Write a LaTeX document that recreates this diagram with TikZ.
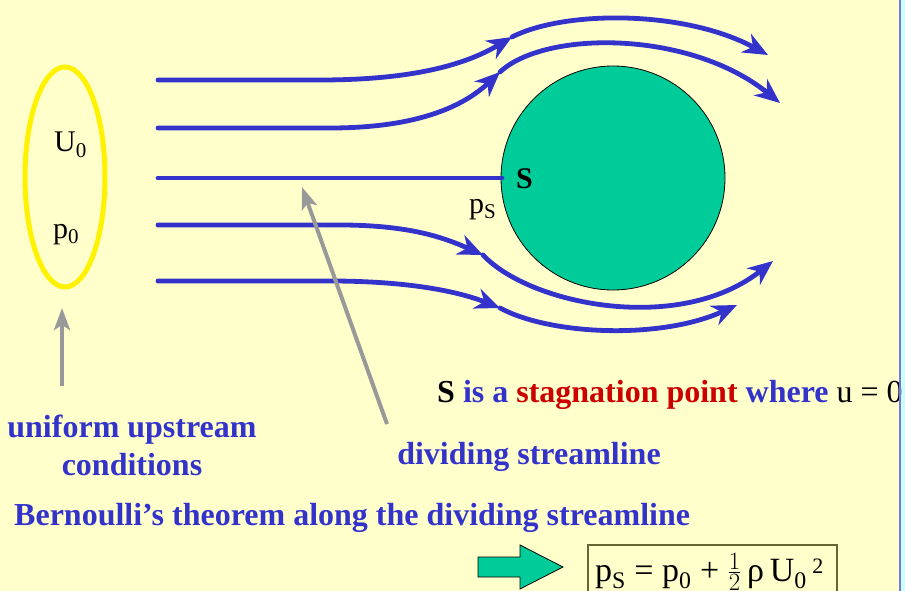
\documentclass[tikz,border=0pt]{standalone}
\usepackage{amsmath}
\usepackage{fontspec}
\setmainfont{Liberation Serif}
\usepackage{xcolor}
\definecolor{paper}{HTML}{FFFFCC}
\definecolor{flowblue}{HTML}{3333CC}
\definecolor{stagred}{HTML}{CC0000}
\definecolor{bodygreen}{HTML}{00CC99}
\definecolor{pointgray}{HTML}{999999}
\definecolor{rimblue}{HTML}{7777DD}
\definecolor{rimcyan}{HTML}{CCFFFF}
\definecolor{boxolive}{HTML}{666633}
\usepackage{tikz}
\usetikzlibrary{arrows.meta}

\begin{document}
\begin{tikzpicture}[
  x=1pt, y=-1pt,
  stream/.style={line width=4.8pt, color=flowblue, line cap=round},
  tip/.style={-{Stealth[length=25pt, width=21pt, inset=8pt]}},
  pointer/.style={line width=4pt, color=pointgray, -{Stealth[length=22pt, width=16pt, inset=5pt]}},
  note/.style={font=\fontsize{32}{38}\selectfont\bfseries, text=flowblue, inner sep=0pt},
  sym/.style={font=\fontsize{30}{34}\selectfont, inner sep=0pt}
]
\useasboundingbox (0,0) rectangle (905,591);
\fill[paper] (0,0) rectangle (900,591);
\fill[rimcyan] (900,0) rectangle (905,591);

% upstream region
\draw[yellow, line width=5pt] (65,177) ellipse [x radius=40, y radius=110];
\node[sym, anchor=base west] (u0) at (54,152) {U\textsubscript{0}};
\node[sym, anchor=base west] (p0) at (53,238) {p\textsubscript{0}};

% body
\draw[black, fill=bodygreen, line width=0.8pt] (613,178) circle [radius=112];
\node[sym, anchor=base west, font=\fontsize{30}{34}\selectfont\bfseries] (s) at (516,188) {S};
\node[sym, anchor=base west] (ps) at (469,213) {p\textsubscript{S}};

% streamlines
\draw[stream, tip] (158,80) -- (320,80) .. controls (420,80) and (470,62) .. (512,37);
\draw[stream, tip] (512,37) .. controls (565,10) and (685,10) .. (768,55);
\draw[stream, tip] (158,128) -- (330,128) .. controls (420,128) and (465,105) .. (500,72);
\draw[stream, tip] (500,72) .. controls (545,30) and (690,30) .. (780,103);
\draw[stream] (158,178) -- (502,178);
\draw[stream, tip] (158,225) -- (340,225) .. controls (410,225) and (445,238) .. (483,255);
\draw[stream, tip] (483,255) .. controls (530,305) and (680,335) .. (773,261);
\draw[stream, tip] (158,281) -- (330,281) .. controls (410,281) and (460,292) .. (500,308);
\draw[stream, tip] (500,308) .. controls (550,335) and (660,340) .. (737,305);

% labels
\node[note, align=center] (upstr) at (132,445) {uniform upstream\\conditions};
\node[note] (divl) at (529,457) {dividing streamline};
\node[note, anchor=base west] (bern) at (14,525) {Bernoulli’s theorem along the dividing streamline};
\node[note, anchor=base west] (stag) at (437,402)
  {\color{black}S \color{flowblue}is a \color{stagred}stagnation point \color{flowblue}where \color{black}\mdseries u = 0};

\coordinate (upstip) at (62,308);
\coordinate (divtip) at (302,187);
\draw[pointer] (62,386) -- (upstip);
\draw[pointer] (387,424) -- (divtip);

% result
\draw[black, fill=bodygreen, line width=0.8pt]
  (478,557) -- (520,557) -- (520,545) -- (563,567) -- (520,589) -- (520,577) -- (478,577) -- cycle;
\draw[boxolive, line width=1.5pt] (588,545) rectangle (837,600);
\node[sym, anchor=base west, font=\fontsize{34}{38}\selectfont] (eq) at (595,581)
  {p\textsubscript{S} = p\textsubscript{0} + \raisebox{2pt}{$\tfrac{1}{2}$}\,ρ\,U\textsubscript{0}\,\raisebox{8pt}{\fontsize{22}{24}\selectfont 2}};

\draw[rimblue, line width=1.5pt] (900,0) -- (900,591);
\end{tikzpicture}
\end{document}
